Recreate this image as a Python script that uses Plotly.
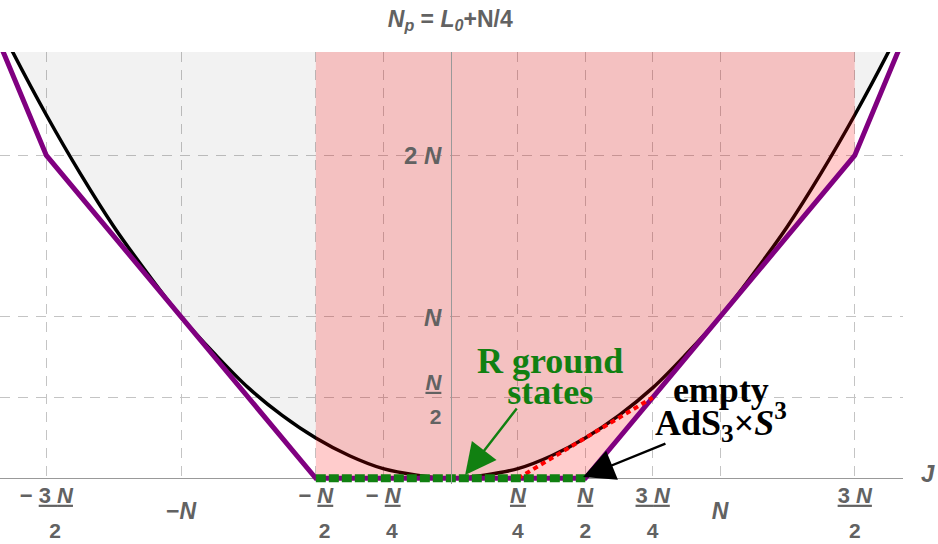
import plotly.graph_objects as go

# ---------------- data (in units of N) ----------------
J_curve = [-1.70, -1.625, -1.5, -1.375, -1.25, -1.125, -1.0, -0.875, -0.75, -0.625, -0.5,
           -0.375, -0.25, -0.125, 0.0, 0.125, 0.25, 0.375, 0.5, 0.625, 0.75, 0.875,
           1.0, 1.125, 1.25, 1.375, 1.5, 1.625, 1.70]
E_curve = [2.89, 2.64, 2.25, 1.89, 1.56, 1.27, 1.0, 0.77, 0.56, 0.39, 0.25,
           0.14, 0.06, 0.02, 0.0, 0.02, 0.06, 0.14, 0.25, 0.39, 0.56, 0.77,
           1.0, 1.27, 1.56, 1.89, 2.25, 2.64, 2.89]

J_bound = [-1.75, -1.5, -0.5, 0.5, 1.5, 1.75]
E_bound = [3.0, 2.0, 0.0, 0.0, 2.0, 3.0]

J_region = [-0.5, 0.5, 1.5, 1.5, -0.5]
E_region = [0.0, 0.0, 2.0, 3.2, 3.2]

J_red = [0.25, 0.75]
E_red = [0.0, 0.5]

J_green = [-0.5, 0.5]
E_green = [0.0, 0.0]

x_tickvals = [-1.5, -1.0, -0.5, -0.25, 0.25, 0.5, 0.75, 1.0, 1.5]
y_tickvals = [0.5, 1.0, 2.0]

X_RANGE = [-1.672, 1.679]
Y_RANGE = [-0.035, 2.64]

GRAY_TXT = "#626262"
NB = "\u00a0"


def sp(t, size=22):
    return f"<span style='font-size:{size}px'>{t}</span>"


x_ticktext = [
    sp("<b>−" + NB + "<u>3" + NB + "<i>N</i></u></b>") + "<br>" + sp("<b>" + NB * 3 + "2</b>", 21),
    "",
    sp("<b>−" + NB + "<u><i>N</i></u></b>") + "<br>" + sp("<b>" + NB * 3 + "2</b>", 21),
    sp("<b>−" + NB + "<u><i>N</i></u></b>") + "<br>" + sp("<b>" + NB * 3 + "4</b>", 21),
    sp("<b><u><i>N</i></u></b>") + "<br>" + sp("<b>4</b>", 21),
    sp("<b><u><i>N</i></u></b>") + "<br>" + sp("<b>2</b>", 21),
    sp("<b><u>3" + NB + "<i>N</i></u></b>") + "<br>" + sp("<b>4</b>", 21),
    "",
    sp("<b><u>3" + NB + "<i>N</i></u></b>") + "<br>" + sp("<b>2</b>", 21),
]
x2_tickvals = [-1.0, 1.0]
x2_ticktext = ["<b>−<i>N</i></b>", "<b><i>N</i></b>"]

y_ticktext = [
    sp("<b><u><i>N</i></u></b>") + "<br>" + sp("<b>2</b>", 21),
    sp("<b><i>N</i></b>", 24),
    sp("<b>2" + NB + "<i>N</i></b>", 24),
]

fig = go.Figure()

# gray region above the black curve
fig.add_trace(go.Scatter(
    x=J_curve + [J_curve[-1], J_curve[0]],
    y=E_curve + [3.2, 3.2],
    fill="toself", fillcolor="rgba(0,0,0,0.05)", mode="lines",
    line=dict(width=0), hoverinfo="skip", showlegend=False))

# black curve
fig.add_trace(go.Scatter(
    x=J_curve, y=E_curve, mode="lines", line=dict(color="black", width=3.5, shape="spline"),
    hoverinfo="skip", showlegend=False))

# pink region
fig.add_trace(go.Scatter(
    x=J_region, y=E_region, fill="toself", fillcolor="rgba(255,0,0,0.2)", mode="lines",
    line=dict(width=0), hoverinfo="skip", showlegend=False))

# purple boundary
fig.add_trace(go.Scatter(
    x=J_bound, y=E_bound, mode="lines", line=dict(color="#800080", width=5),
    hoverinfo="skip", showlegend=False))

# red dotted
fig.add_trace(go.Scatter(
    x=J_red, y=E_red, mode="lines", line=dict(color="#FF0000", width=4, dash="5px,4px"),
    hoverinfo="skip", showlegend=False))

# green dashed
fig.add_trace(go.Scatter(
    x=J_green, y=E_green, mode="lines", line=dict(color="#118011", width=8, dash="10px,3px"),
    hoverinfo="skip", showlegend=False))

# dummy trace for x2
fig.add_trace(go.Scatter(x=[0], y=[0], xaxis="x2", mode="markers", marker=dict(opacity=0),
                         hoverinfo="skip", showlegend=False))

ypos = (0 - Y_RANGE[0]) / (Y_RANGE[1] - Y_RANGE[0])
xpos = (0 - X_RANGE[0]) / (X_RANGE[1] - X_RANGE[0])

grid = dict(showgrid=True, gridcolor="#C4C4C4", gridwidth=1, griddash="10px,8px")

fig.update_layout(
    width=938, height=544, autosize=False,
    margin=dict(l=0, r=35, t=52, b=60, autoexpand=False),
    paper_bgcolor="white", plot_bgcolor="white",
    title=dict(text="<b><i>N<sub>p</sub></i> = <i>L<sub>0</sub></i>+N/4</b>",
               font=dict(family="Liberation Sans, Arial", size=23, color=GRAY_TXT),
               x=0.48, xref="container", xanchor="center",
               y=0.966, yref="container", yanchor="middle", automargin=False),
    xaxis=dict(range=X_RANGE, domain=[0, 1], anchor="free", position=ypos,
               tickvals=x_tickvals, ticktext=x_ticktext, ticks="", automargin=False,
               tickfont=dict(family="Liberation Sans, Arial", size=27, color=GRAY_TXT),
               showline=True, linecolor="#999999", linewidth=1, zeroline=False,
               layer="below traces", ticklabelstandoff=-9, **grid),
    xaxis2=dict(range=X_RANGE, overlaying="x", anchor="free", position=ypos, automargin=False,
                tickvals=x2_tickvals, ticktext=x2_ticktext, ticks="",
                tickfont=dict(family="Liberation Sans, Arial", size=23, color=GRAY_TXT),
                showline=False, showgrid=False, zeroline=False, ticklabelstandoff=17),
    yaxis=dict(range=Y_RANGE, domain=[0, 1], anchor="free", position=xpos, automargin=False,
               tickvals=y_tickvals, ticktext=y_ticktext, ticks="",
               tickfont=dict(family="Liberation Sans, Arial", size=26, color=GRAY_TXT),
               showline=True, linecolor="#999999", linewidth=1, zeroline=False,
               ticklabelstandoff=4, **grid),
    annotations=[
        dict(text="<b><i>J</i></b>", xref="paper", yref="y", x=1.028, y=0.03,
             showarrow=False, font=dict(family="Liberation Sans, Arial", size=24, color=GRAY_TXT),
             xanchor="center", yanchor="middle"),
        dict(text=sp("<b>R ground</b>", 36) + "<br>" + sp("<b>states</b>", 36),
             xref="x", yref="y", x=0.369, y=0.63, showarrow=False,
             font=dict(family="Liberation Serif, Times New Roman", size=24, color="#118011"),
             xanchor="center", yanchor="middle"),
        dict(text=sp("<b>empty</b>", 36) + "<br>" + sp("<b>AdS<sub>3</sub>×<i>S</i><sup>3</sup></b>", 36),
             xref="x", yref="y", x=1.004, y=0.43, showarrow=False,
             font=dict(family="Liberation Serif, Times New Roman", size=25, color="black"),
             xanchor="center", yanchor="middle"),
        dict(text="", xref="x", yref="y", x=0.054, y=0.02, axref="x", ayref="y",
             ax=0.25, ay=0.442, showarrow=True, arrowhead=2, arrowsize=2.6, arrowwidth=2.4,
             arrowcolor="#118011", standoff=0),
        dict(text="", xref="x", yref="y", x=0.492, y=0.008, axref="x", ayref="y",
             ax=0.803, ay=0.219, showarrow=True, arrowhead=2, arrowsize=2.6, arrowwidth=2.4,
             arrowcolor="black", standoff=0),
    ],
)

fig.write_html("out.html")
